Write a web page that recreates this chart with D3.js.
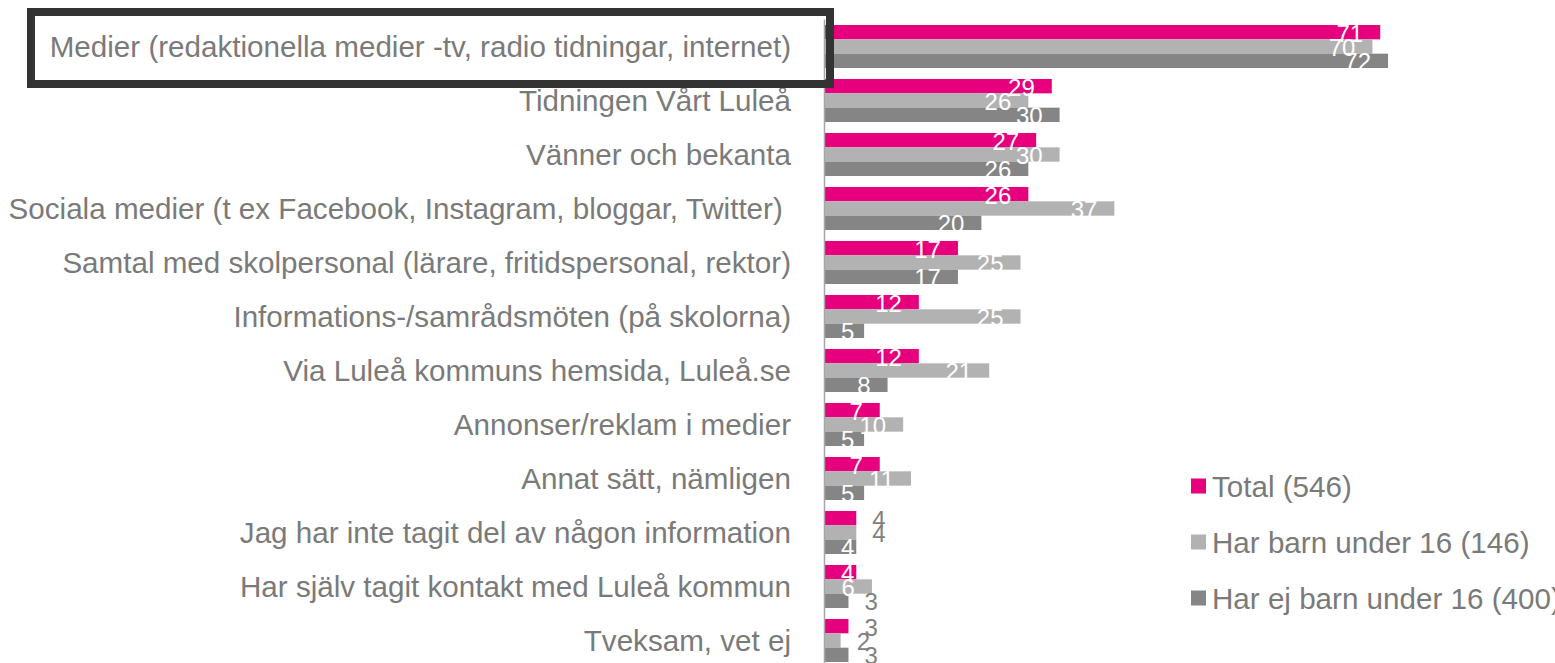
<!DOCTYPE html>
<html>
<head>
<meta charset="utf-8">
<script src="https://cdn.jsdelivr.net/npm/d3@7"></script>
<style>
  html, body { margin: 0; padding: 0; background: #fff; }
  svg { display: block; font-family: "Liberation Sans", Arial, sans-serif; }
</style>
</head>
<body>
<svg id="chart" width="1555" height="663"></svg>
<script>
const categories = [
  "Medier (redaktionella medier -tv, radio tidningar, internet)",
  "Tidningen Vårt Luleå",
  "Vänner och bekanta",
  "Sociala medier (t ex Facebook, Instagram, bloggar, Twitter) ",
  "Samtal med skolpersonal (lärare, fritidspersonal, rektor)",
  "Informations-/samrådsmöten (på skolorna)",
  "Via Luleå kommuns hemsida, Luleå.se",
  "Annonser/reklam i medier",
  "Annat sätt, nämligen",
  "Jag har inte tagit del av någon information",
  "Har själv tagit kontakt med Luleå kommun",
  "Tveksam, vet ej"
];
const seriesNames = ["Total (546)", "Har barn under 16 (146)", "Har ej barn under 16 (400)"];
const total    = [71, 29, 27, 26, 17, 12, 12, 7, 7, 4, 4, 3];
const harBarn  = [70, 26, 30, 37, 25, 25, 21, 10, 11, 4, 6, 2];
const harEj    = [72, 30, 26, 20, 17, 5, 8, 5, 5, 4, 3, 3];
const seriesValues = [total, harBarn, harEj];
const seriesColors = ["#e6007e", "#b2b2b2", "#858585"];
// labels drawn outside the bar end: [category index, series index]
const outsideLabels = [[9,0],[9,1],[10,2],[11,0],[11,1],[11,2]];

const svg = d3.select("#chart");
const axisX = 825;
const x = d3.scaleLinear().domain([0, 80]).range([axisX, axisX + 625.6]);
const y = d3.scaleBand().domain(d3.range(categories.length)).range([19.5, 667.5]).paddingInner(0.204).paddingOuter(0.102);
const ySub = d3.scaleBand().domain([0,1,2]).range([0, y.bandwidth()]);

const data = [];
categories.forEach((c, i) => {
  seriesValues.forEach((vals, s) => data.push({ i, s, v: vals[i] }));
});

// bars
svg.append("g").selectAll("rect").data(data).join("rect")
  .attr("x", axisX)
  .attr("y", d => y(d.i) + ySub(d.s))
  .attr("width", d => x(d.v) - axisX)
  .attr("height", ySub.bandwidth())
  .attr("fill", d => seriesColors[d.s]);

// axis line
svg.append("line")
  .attr("x1", axisX - 0.5).attr("x2", axisX - 0.5)
  .attr("y1", y.range()[0]).attr("y2", y.range()[1])
  .attr("stroke", "#a6a6a6").attr("stroke-width", 1.5);

// value labels
const isOutside = d => outsideLabels.some(o => o[0] === d.i && o[1] === d.s);
const lbl = svg.append("g").style("font-size", "24px").selectAll("text").data(data).join("text")
  .attr("y", d => y(d.i) + ySub(d.s) + ySub.bandwidth() / 2)
  .attr("dy", "0.4em")
  .text(d => d.v)
  .attr("fill", d => isOutside(d) ? "#808080" : "#ffffff");
lbl.each(function(d) {
  const t = d3.select(this);
  if (isOutside(d)) {
    t.attr("x", x(d.v) + 16).attr("text-anchor", "start");
  } else {
    const w = this.getComputedTextLength();
    const endX = x(d.v) - 17;
    if (endX - w < axisX + 16) {
      t.attr("x", axisX + 16).attr("text-anchor", "start");
    } else {
      t.attr("x", endX).attr("text-anchor", "end");
    }
  }
});

// category labels
svg.append("g").style("font-size", "29.6px").selectAll("text").data(categories).join("text")
  .attr("x", 791)
  .attr("y", (c, i) => y(i) + y.bandwidth() / 2)
  .attr("dy", "0.36em")
  .attr("text-anchor", "end")
  .attr("fill", "#7a7a7a")
  .style("white-space", "pre")
  .text(c => c);

// highlight box
svg.append("rect")
  .attr("x", 31).attr("y", 12).attr("width", 799).attr("height", 72)
  .attr("fill", "none").attr("stroke", "#333333").attr("stroke-width", 8);

// legend
const lg = svg.append("g");
seriesNames.forEach((n, s) => {
  const cy = 486 + s * 56;
  lg.append("rect").attr("x", 1191).attr("y", cy - 7.5).attr("width", 15).attr("height", 15).attr("fill", seriesColors[s]);
  lg.append("text").attr("x", 1212).attr("y", cy).attr("dy", "0.36em")
    .style("font-size", "29.6px").attr("fill", "#7a7a7a").text(n);
});
</script>
</body>
</html>
